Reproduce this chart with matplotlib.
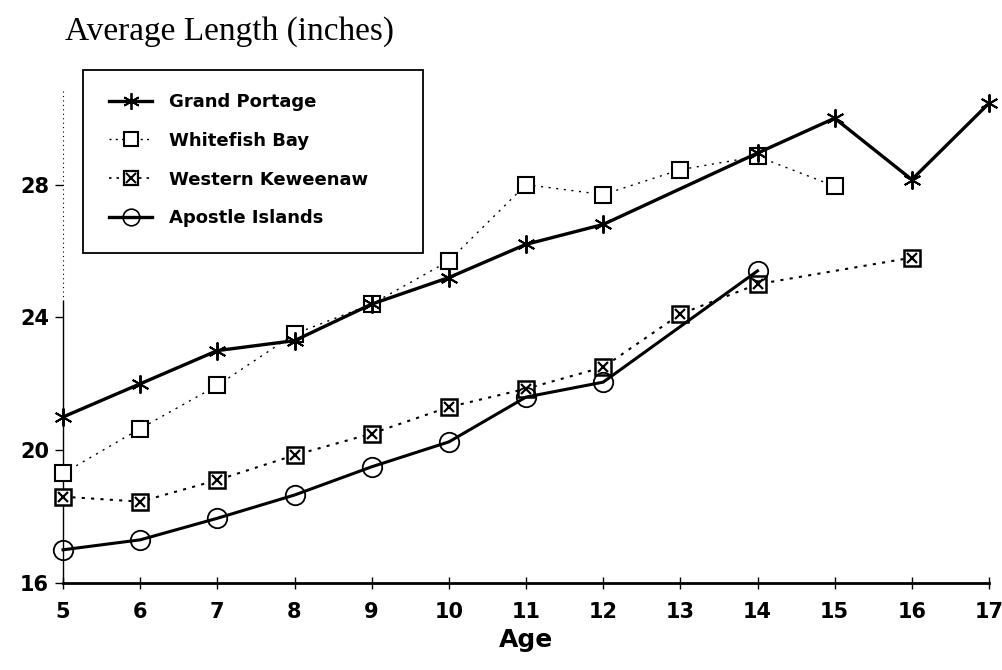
import numpy as np
import matplotlib
matplotlib.use('Agg')
import matplotlib.pyplot as plt
from matplotlib.patches import Rectangle
from matplotlib.lines import Line2D
from matplotlib.legend_handler import HandlerTuple

# Mittlere Länge nach Alter, vier Fanggebiete
age_gp = [5, 6, 7, 8, 9, 10, 11, 12, 14, 15, 16, 17]
len_gp = [21.0, 22.0, 23.0, 23.3, 24.4, 25.2, 26.2, 26.8, 28.95, 30.0, 28.15, 30.45]

age_wf = [5, 6, 7, 8, 9, 10, 11, 12, 13, 14, 15]
len_wf = [19.3, 20.65, 21.95, 23.5, 24.4, 25.7, 28.0, 27.7, 28.45, 28.85, 27.95]

age_wk = [5, 6, 7, 8, 9, 10, 11, 12, 13, 14, 16]
len_wk = [18.6, 18.45, 19.1, 19.85, 20.5, 21.3, 21.85, 22.5, 24.1, 25.0, 25.8]

age_ai = [5, 6, 7, 8, 9, 10, 11, 12, 14]
len_ai = [17.0, 17.3, 17.95, 18.65, 19.5, 20.25, 21.6, 22.05, 25.4]

labels = ['Grand Portage', 'Whitefish Bay', 'Western Keweenaw', 'Apostle Islands']
xticks = list(range(5, 18))
yticks = [16, 20, 24, 28]

W, H = 1003, 670
fig = plt.figure(figsize=(W / 100, H / 100), dpi=100)
ax = fig.add_axes([63 / W, 1 - 583 / H, (989 - 63) / W, (583 - 90) / H])
ax.set_xlim(5, 17)
ax.set_ylim(16, 16 + (583 - 90) / 33.2)

ax.plot(age_gp, len_gp, '-', color='k', lw=2.4, marker=(6, 2, 0), ms=13, mew=1.4, clip_on=False, zorder=4)
ax.plot(age_wf, len_wf, linestyle=(0, (1.5, 4)), color='k', lw=1.0, marker='s', ms=11,
        mfc='white', mec='k', mew=1.5, clip_on=False, zorder=3)
ax.plot(age_wk, len_wk, linestyle=(0, (1.5, 3)), color='k', lw=1.5, marker='s', ms=11,
        mfc='white', mec='k', mew=1.8, clip_on=False, zorder=3)
ax.plot(age_wk, len_wk, 'x', color='k', ms=7.5, mew=1.6, clip_on=False, zorder=3)
ax.plot(age_ai, len_ai, '-', color='k', lw=2.2, marker='o', ms=14, mfc='none', mec='k', mew=1.3,
        clip_on=False, zorder=4)

# Achsen im Stil des Originals
for s in ['top', 'right']:
    ax.spines[s].set_visible(False)
ax.spines['bottom'].set_linewidth(2.0)
ax.spines['left'].set_linewidth(1.0)
ax.spines['left'].set_bounds(16, 24.5)
ax.plot([5, 5], [24.5, ax.get_ylim()[1]], linestyle=(0, (1, 3)), color='k', lw=0.8, clip_on=False)

tickfont = {'family': 'DejaVu Sans', 'weight': 'bold', 'size': 15}
ax.set_xticks(xticks)
ax.set_xticklabels([str(t) for t in xticks], fontdict=tickfont)
ax.set_yticks(yticks)
ax.set_yticklabels([str(t) for t in yticks], fontdict=tickfont)
ax.tick_params(axis='x', direction='inout', length=8, width=1, pad=10)
ax.tick_params(axis='y', direction='out', length=6, width=1, pad=4)

ax.set_xlabel('Age', fontsize=18, fontweight='bold', family='DejaVu Sans', labelpad=4)
fig.text(65 / W, 1 - 32 / H, 'Average Length (inches)', family='Liberation Serif',
         fontsize=24, va='center', ha='left')

# Legende mit eigenem Rahmen
h_gp = Line2D([], [], color='k', lw=2.4, marker=(6, 2, 0), ms=12, mew=1.3)
h_wf = Line2D([], [], color='k', linestyle=(0, (1.5, 3)), lw=1.0, marker='s', ms=10, mfc='white', mew=1.5)
h_wk1 = Line2D([], [], color='k', linestyle=(0, (1.5, 3)), lw=1.2, marker='s', ms=10, mfc='white', mew=1.6)
h_wk2 = Line2D([], [], color='k', lw=0, marker='x', ms=7, mew=1.5)
h_ai = Line2D([], [], color='k', lw=2.4, marker='o', ms=12, mfc='none', mew=1.2)
leg = fig.legend([h_gp, h_wf, (h_wk1, h_wk2), h_ai], labels, loc='upper left',
                 bbox_to_anchor=(100 / W, 1 - 84 / H), frameon=False,
                 handler_map={tuple: HandlerTuple(ndivide=1, pad=0)},
                 prop={'family': 'DejaVu Sans', 'weight': 'bold', 'size': 13},
                 handlelength=2.4, handletextpad=0.9, labelspacing=1.15, borderpad=0)
fig.add_artist(Rectangle((83 / W, 1 - 253 / H), (423 - 83) / W, (253 - 70) / H,
                         transform=fig.transFigure, fill=False, ec='k', lw=1.3))

fig.savefig('out.png', dpi=100)
